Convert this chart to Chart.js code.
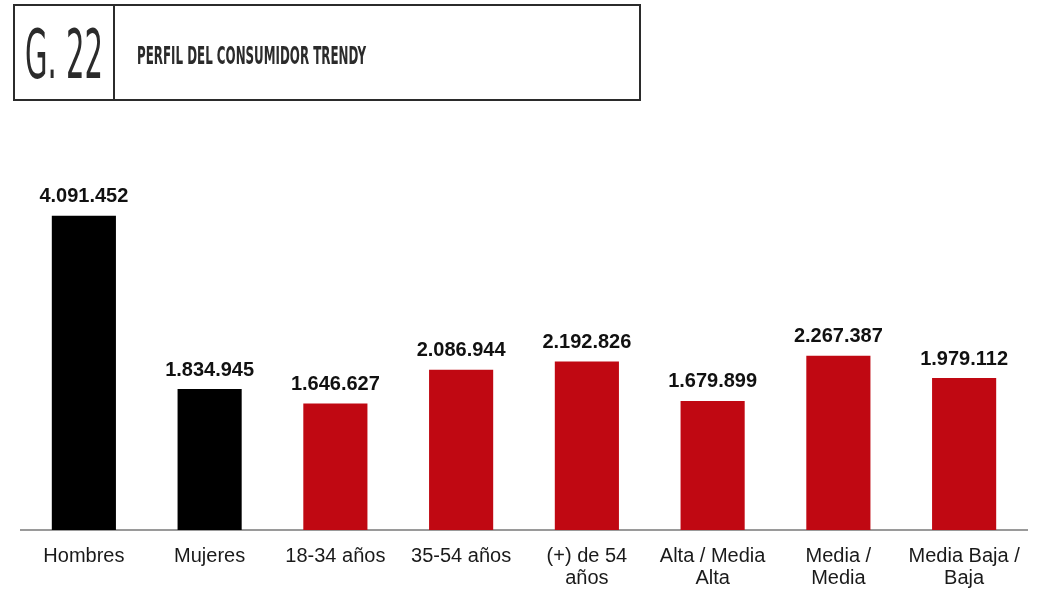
<!DOCTYPE html>
<html><head><meta charset="utf-8">
<script src="https://cdn.jsdelivr.net/npm/chart.js@4"></script>
<style>
html,body{margin:0;padding:0;background:#fff;width:1039px;height:590px;overflow:hidden}
#hdr{position:absolute;left:13px;top:4px;width:624px;height:93px;border:2px solid #2b2b2b;}
#hdr .num{position:absolute;left:0;top:0;width:98px;height:93px;border-right:2px solid #2b2b2b;}
.fit{position:absolute;white-space:nowrap;font-family:"DejaVu Sans Condensed","DejaVu Sans",sans-serif;font-stretch:condensed;color:#2b2b2b;line-height:1;transform-origin:left top;display:inline-block}
#g22{left:10px;top:14.5px;font-size:68px;font-weight:normal}
#ttl{left:122px;top:37px;font-size:25px;font-weight:bold}
#wrap{position:absolute;left:0;top:0;width:1039px;height:604px}
</style></head><body>
<div id="wrap"><canvas id="c" width="1039" height="604"></canvas></div>
<div id="hdr"><div class="num"><span class="fit" id="g22" data-w="78">G. 22</span></div><span class="fit" id="ttl" data-w="229">PERFIL DEL CONSUMIDOR TRENDY</span></div>
<script>
document.querySelectorAll('.fit').forEach(el=>{
  const w=el.getBoundingClientRect().width;
  el.style.transform='scaleX('+(parseFloat(el.dataset.w)/w)+')';
});

const categories = [["Hombres"],["Mujeres"],["18-34 años"],["35-54 años"],["(+) de 54","años"],["Alta / Media","Alta"],["Media /","Media"],["Media Baja /","Baja"]];
const values = [4091452,1834945,1646627,2086944,2192826,1679899,2267387,1979112];

function fmt(v){return String(v).replace(/\B(?=(\d{3})+(?!\d))/g,'.');}

const valueLabels = {
  id:'valueLabels',
  afterDatasetsDraw(chart){
    const ctx=chart.ctx;
    const meta=chart.getDatasetMeta(0);
    ctx.save();
    ctx.font='bold 20px "Liberation Sans", Arial, sans-serif';
    ctx.fillStyle='#111';
    ctx.textAlign='center';
    ctx.textBaseline='bottom';
    meta.data.forEach((bar,i)=>{
      ctx.fillText(fmt(values[i]), bar.x, bar.y-9);
    });
    ctx.restore();
  }
};

new Chart(document.getElementById('c'),{
  type:'bar',
  data:{labels:categories,datasets:[{
    data:values,
    backgroundColor:(c)=>c.dataIndex<2?'#000000':'#c00812',
    borderWidth:0,
    barPercentage:0.51,
    categoryPercentage:1.0
  }]},
  options:{
    responsive:false,
    animation:false,
    devicePixelRatio:1,
    layout:{padding:{left:21,right:12,top:146,bottom:0}},
    plugins:{legend:{display:false},tooltip:{enabled:false}},
    scales:{
      x:{
        grid:{display:false,drawTicks:false},
        border:{display:true,color:'#9a9a9a',width:2},
        ticks:{color:'#1a1a1a',font:{family:'"Liberation Sans", Arial, sans-serif',size:20,lineHeight:1.1},padding:15,maxRotation:0,autoSkip:false}
      },
      y:{display:false,min:0,max:5000000}
    }
  },
  plugins:[valueLabels]
});
</script>
</body></html>
